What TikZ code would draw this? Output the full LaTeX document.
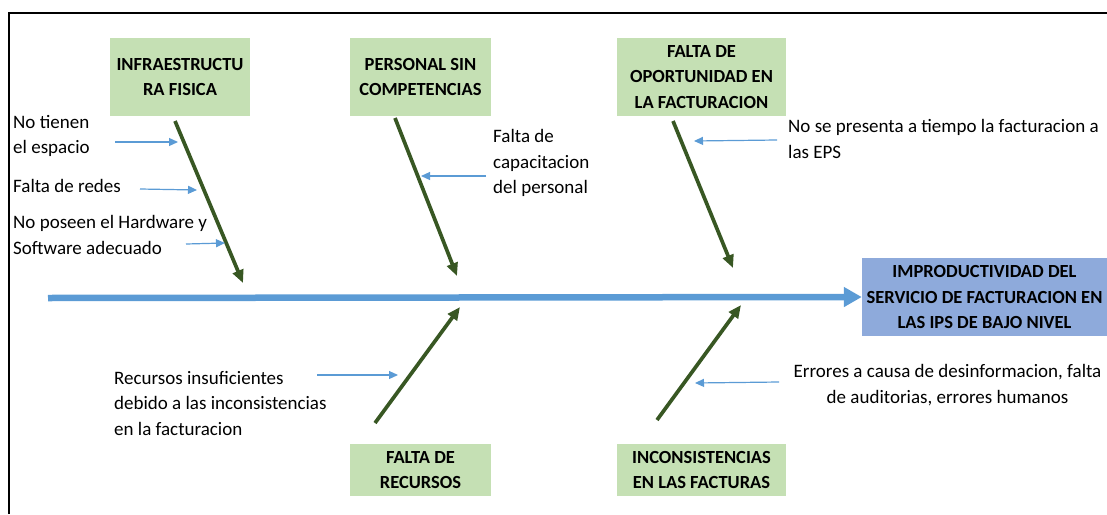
\documentclass[tikz,border=0pt]{standalone}
\usepackage{fontspec}
\setmainfont{Carlito}
\usetikzlibrary{arrows.meta}
\definecolor{boxgreen}{HTML}{C5E0B4}
\definecolor{effblue}{HTML}{8EAADB}
\definecolor{spineblue}{HTML}{5B9BD5}
\definecolor{bonegreen}{HTML}{385723}
\tikzset{
  causebox/.style={fill=boxgreen, draw=none, align=center, inner sep=0pt,
    font=\fontsize{18.5}{25.5}\selectfont\bfseries},
  effbox/.style={fill=effblue, draw=none, align=center, inner sep=0pt,
    font=\fontsize{18.5}{25.5}\selectfont\bfseries},
  lbl/.style={inner sep=0pt, align=left, font=\fontsize{19}{25.5}\selectfont},
  lblc/.style={inner sep=0pt, align=center, font=\fontsize{19}{25.5}\selectfont},
  bone/.style={draw=bonegreen, line width=3.7pt, -{Triangle[length=13pt,width=11pt]}},
  sub/.style={draw=spineblue, line width=1.2pt, -{Triangle[length=9pt,width=8pt]}},
  spine/.style={draw=spineblue, line width=6.5pt, -{Triangle[length=18pt,width=19pt]}},
}
\begin{document}
\begin{tikzpicture}[x=1pt,y=-1pt]
\useasboundingbox (0,0) rectangle (1107,514);
% frame
\draw[line width=2.8pt] (9,514) -- (9,13) -- (1107,13);

% cause boxes
\node[causebox, minimum width=140pt, minimum height=78pt] (b1) at (180,77) {INFRAESTRUCTU\\RA FISICA};
\node[causebox, minimum width=141pt, minimum height=78pt] (b2) at (420.5,77) {PERSONAL SIN\\COMPETENCIAS};
\node[causebox, minimum width=169pt, minimum height=78pt] (b3) at (701.5,77) {FALTA DE\\OPORTUNIDAD EN\\LA FACTURACION};
\node[causebox, minimum width=141pt, minimum height=52pt] (b4) at (420.5,470) {FALTA DE\\RECURSOS};
\node[causebox, minimum width=169pt, minimum height=52pt] (b5) at (701.5,470) {INCONSISTENCIAS\\EN LAS FACTURAS};
\node[effbox, minimum width=245pt, minimum height=78pt] (eff) at (984.5,297) {IMPRODUCTIVIDAD DEL\\SERVICIO DE FACTURACION EN\\LAS IPS DE BAJO NIVEL};

% spine
\coordinate (s0) at (48,298);
\draw[spine] (s0) -- (eff.west);

% bones
\coordinate (t1) at (175,121); \coordinate (h1) at (243,283);
\coordinate (t2) at (395,118); \coordinate (h2) at (457,276);
\coordinate (t3) at (673,121); \coordinate (h3) at (733,268);
\coordinate (t4) at (375,423); \coordinate (h4) at (460,307);
\coordinate (t5) at (657,420); \coordinate (h5) at (741,305);
\draw[bone] (t1) -- (h1);
\draw[bone] (t2) -- (h2);
\draw[bone] (t3) -- (h3);
\draw[bone] (t4) -- (h4);
\draw[bone] (t5) -- (h5);

% labels
\node[lbl, anchor=west] (l1) at (13,136) {No tienen\\el espacio};
\node[lbl, anchor=west] (l2) at (13,186) {Falta de redes};
\node[lbl, anchor=west] (l3) at (13,235) {No poseen el Hardware y\\Software adecuado};
\node[lbl, anchor=west] (l4) at (493,163) {Falta de\\capacitacion\\del personal};
\node[lbl, anchor=west] (l5) at (788,139) {No se presenta a tiempo la facturacion a\\las EPS};
\node[lbl, anchor=west] (l6) at (114,403) {Recursos insuficientes\\debido a las inconsistencias\\en la facturacion};
\node[lblc] (l7) at (947.5,385) {Errores a causa de desinformacion, falta\\de auditorias, errores humanos};

% small arrows
\coordinate (a1s) at (115,142); \coordinate (a1e) at (178,142);
\coordinate (a2s) at (140,189); \coordinate (a2e) at (197,190);
\coordinate (a3s) at (186,244); \coordinate (a3e) at (225,243);
\coordinate (a4s) at (486,176); \coordinate (a4e) at (421,176);
\coordinate (a5s) at (777,140); \coordinate (a5e) at (694,141);
\coordinate (a6s) at (317,375); \coordinate (a6e) at (398,375);
\coordinate (a7s) at (779,382); \coordinate (a7e) at (695,383);
\draw[sub] (a1s) -- (a1e);
\draw[sub] (a2s) -- (a2e);
\draw[sub] (a3s) -- (a3e);
\draw[sub] (a4s) -- (a4e);
\draw[sub] (a5s) -- (a5e);
\draw[sub] (a6s) -- (a6e);
\draw[sub] (a7s) -- (a7e);
\end{tikzpicture}
\end{document}
